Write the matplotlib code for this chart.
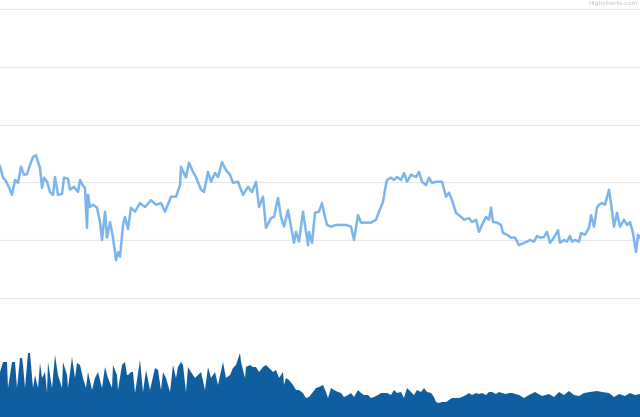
import matplotlib.pyplot as plt

# price series (day index, close)
price_days = [0, 3, 6, 10, 12, 15, 18, 21, 24, 27, 30, 33, 36, 38, 40, 42, 44, 47, 50, 53,
              55, 58, 62, 64, 68, 70, 74, 78, 80, 83, 85, 87, 88, 90, 93, 97, 100, 102, 105, 107,
              110, 113, 116, 118, 120, 123, 125, 128, 131, 135, 140, 145, 151, 156, 161, 165, 171, 176, 180, 181,
              186, 189, 193, 196, 201, 204, 208, 211, 215, 218, 222, 226, 230, 233, 238, 243, 248, 252, 256, 259,
              263, 266, 271, 274, 278, 281, 284, 288, 291, 294, 296, 299, 303, 305, 308, 309, 312, 315, 319, 322,
              324, 327, 331, 336, 341, 346, 351, 354, 358, 361, 366, 371, 376, 379, 383, 385, 387, 391, 394, 397,
              401, 404, 407, 411, 416, 419, 422, 426, 429, 432, 437, 442, 446, 449, 452, 456, 461, 464, 469, 472,
              476, 479, 482, 486, 489, 491, 493, 497, 501, 503, 507, 511, 515, 519, 524, 527, 530, 534, 537, 540,
              544, 547, 550, 554, 558, 560, 564, 567, 570, 572, 575, 579, 581, 585, 589, 591, 594, 597, 599, 602,
              605, 609, 611, 614, 617, 620, 624, 627, 630, 633, 636, 638, 640]
price = [42.8, 40.8, 40.2, 38.7, 37.8, 40.4, 39.9, 42.7, 41.3, 41.4, 43.0, 44.4, 44.7, 43.5, 42.5, 39.0, 40.8, 40.1, 38.3, 37.8,
         40.9, 37.8, 38.0, 40.8, 40.6, 38.7, 39.2, 38.3, 40.4, 39.4, 39.0, 32.1, 37.8, 35.7, 36.1, 35.6, 33.1, 30.0, 34.9, 30.4,
         33.1, 30.4, 26.5, 27.9, 27.1, 32.6, 34.0, 31.9, 35.6, 34.9, 36.4, 35.7, 36.9, 36.1, 36.4, 34.9, 37.5, 37.5, 39.5, 42.7,
         40.8, 43.4, 41.8, 40.9, 38.7, 38.3, 41.8, 40.1, 41.6, 40.9, 43.5, 42.1, 41.3, 39.9, 40.1, 37.8, 39.2, 38.3, 40.1, 35.7,
         37.5, 32.1, 33.8, 34.0, 37.3, 34.0, 32.3, 35.2, 32.3, 29.5, 31.4, 29.7, 34.9, 32.6, 29.1, 31.4, 29.5, 34.7, 34.9, 36.4,
         34.7, 32.6, 32.3, 32.6, 32.6, 32.6, 32.3, 30.0, 34.3, 33.0, 33.0, 33.0, 33.5, 34.9, 36.6, 38.7, 40.4, 40.8, 40.4, 40.9,
         40.4, 41.6, 40.1, 41.3, 40.9, 41.8, 40.1, 39.5, 40.8, 39.9, 40.1, 40.1, 37.5, 38.2, 36.9, 34.7, 34.0, 33.5, 33.8, 33.1,
         33.5, 31.4, 32.6, 34.0, 33.5, 35.6, 33.1, 33.0, 32.6, 31.2, 30.9, 30.4, 30.4, 29.1, 29.5, 29.7, 30.0, 29.7, 30.7, 30.4,
         30.5, 31.4, 29.5, 30.4, 31.7, 29.5, 30.0, 29.7, 30.7, 29.7, 30.0, 29.7, 31.2, 30.9, 32.1, 34.3, 32.3, 35.6, 36.1, 36.4,
         36.1, 38.7, 36.4, 32.3, 34.7, 32.3, 33.5, 32.6, 33.1, 31.2, 27.9, 30.9, 30.4]

# volume series (day index, millions)
vol_days = [0, 3, 7, 8, 12, 15, 17, 20, 22, 23, 25, 28, 30, 33, 35, 38, 40, 42, 45, 47,
            48, 52, 55, 58, 62, 63, 67, 68, 72, 75, 77, 80, 83, 86, 88, 92, 95, 98, 102, 105,
            108, 112, 113, 117, 118, 122, 125, 127, 128, 131, 133, 135, 140, 143, 146, 150, 155, 158, 161, 163,
            166, 170, 173, 176, 178, 181, 183, 186, 188, 191, 195, 198, 201, 205, 208, 211, 215, 218, 223, 226,
            230, 233, 236, 240, 241, 245, 246, 250, 253, 256, 259, 263, 266, 269, 273, 276, 279, 283, 284, 286,
            289, 293, 296, 299, 303, 306, 309, 313, 316, 319, 323, 326, 328, 331, 334, 338, 341, 344, 348, 351,
            354, 358, 361, 364, 368, 371, 374, 378, 381, 384, 387, 391, 394, 397, 401, 404, 407, 411, 414, 417,
            421, 424, 427, 431, 434, 436, 439, 442, 446, 449, 452, 456, 459, 462, 466, 469, 472, 476, 479, 482,
            486, 489, 492, 496, 499, 502, 506, 509, 512, 519, 524, 529, 535, 542, 549, 554, 559, 564, 569, 574,
            579, 584, 590, 597, 602, 609, 614, 619, 625, 630, 635, 640]
volume = [4.5, 5.5, 5.5, 2.9, 5.5, 5.5, 2.9, 5.9, 5.9, 5.2, 2.9, 6.4, 6.4, 2.9, 4.2, 2.9, 5.4, 3.9, 4.5, 2.5,
          5.5, 2.9, 6.2, 4.2, 2.9, 5.5, 4.2, 2.9, 6.0, 3.9, 5.4, 5.2, 3.9, 2.9, 4.5, 2.7, 3.9, 4.5, 2.9, 5.0,
          3.9, 2.9, 5.2, 4.2, 2.7, 5.2, 5.5, 4.2, 4.2, 4.5, 4.5, 2.4, 5.7, 2.5, 4.7, 2.7, 4.9, 4.7, 2.7, 4.5,
          3.9, 2.5, 5.2, 3.9, 5.0, 5.5, 5.2, 2.5, 5.0, 4.5, 3.9, 4.2, 4.5, 2.7, 5.0, 3.9, 4.5, 3.2, 5.5, 3.9,
          4.2, 4.9, 5.2, 6.4, 5.5, 3.9, 5.0, 5.2, 5.0, 5.0, 4.5, 5.0, 5.2, 4.9, 4.5, 4.7, 3.9, 4.5, 3.2, 3.9,
          3.7, 3.2, 2.7, 2.7, 2.4, 1.9, 2.0, 2.5, 2.9, 3.0, 3.2, 2.5, 1.9, 2.9, 2.7, 2.5, 2.4, 2.0, 2.2, 2.4,
          2.0, 2.7, 2.4, 2.2, 2.2, 1.9, 2.0, 2.2, 2.4, 2.4, 2.4, 2.2, 2.7, 2.4, 2.5, 1.9, 2.9, 2.5, 2.2, 2.7,
          2.5, 2.9, 2.5, 2.4, 2.0, 1.5, 1.4, 1.5, 1.5, 1.7, 1.9, 1.9, 1.9, 2.0, 2.2, 2.4, 2.2, 2.4, 2.3, 2.4,
          2.2, 2.5, 2.5, 2.3, 2.5, 2.4, 2.3, 2.4, 2.4, 2.2, 1.9, 2.2, 2.5, 2.1, 2.3, 2.0, 2.5, 2.2, 2.6, 2.2,
          2.1, 2.4, 2.5, 2.6, 2.5, 2.4, 2.0, 2.3, 2.1, 2.4, 2.2, 2.3]

fig = plt.figure(figsize=(6.4, 4.17), dpi=100)
ax = fig.add_axes([0, 0, 1, 1])
vax = ax.twinx()

ax.plot(price_days, price, color='#7cb5ec', lw=1.8, zorder=3)
ax.set_xlim(0, 640)
ax.set_ylim(-0.7, 71.6)
ax.set_yticks([20, 30, 40, 50, 60, 70])
ax.grid(True, axis='y', color='#e6e6e6', lw=0.8)
ax.set_axisbelow(True)

vax.fill_between(vol_days, 0, volume, color='#0f5fa0', lw=0)
vax.set_ylim(0, 41.7)

for a in (ax, vax):
    a.tick_params(left=False, right=False, bottom=False, labelleft=False, labelright=False, labelbottom=False)
    for s in a.spines.values():
        s.set_visible(False)

# credit text, kept small in the top-right corner
fig.text(0.997, 0.998, 'Highcharts.com', color='#bbbbbb', fontsize=4.5, ha='right', va='top')

fig.savefig('out.png', dpi=100)
